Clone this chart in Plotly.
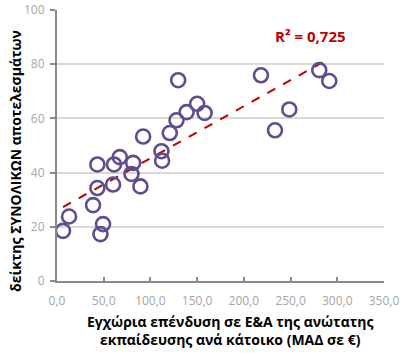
import numpy as np
import plotly.graph_objects as go

# investment per inhabitant (x) and overall results index (y)
invest = [6.4, 12.9, 38.6, 43.2, 43.2, 49.3, 46.5, 60.0, 61.0, 67.2,
          81.5, 79.7, 89.3, 92.2, 111.8, 112.5, 120.7, 127.9, 129.7, 138.7,
          150.0, 158.0, 218.3, 233.3, 248.6, 280.7, 291.4]
results = [18.5, 23.8, 28.0, 34.3, 43.0, 21.0, 17.3, 35.6, 43.0, 45.7,
           43.6, 39.5, 34.9, 53.3, 47.9, 44.4, 54.6, 59.3, 74.1, 62.3,
           65.4, 62.0, 75.9, 55.6, 63.3, 77.8, 73.8]

x_ticks = [0, 50, 100, 150, 200, 250, 300, 350]
y_ticks = [0, 20, 40, 60, 80, 100]
r2_label = "R² = 0,725"

# linear trendline over data range
slope, intercept = np.polyfit(invest, results, 1)
tx = [min(invest), max(invest)]
ty = [slope * v + intercept for v in tx]

fig = go.Figure()

fig.add_trace(go.Scatter(
    x=tx, y=ty, mode="lines",
    line=dict(color="#C00000", width=2, dash="dash"),
    hoverinfo="skip", showlegend=False
))

fig.add_trace(go.Scatter(
    x=invest, y=results, mode="markers",
    marker=dict(symbol="circle-open", size=14, color="#604D8F",
                line=dict(color="#604D8F", width=2.6)),
    showlegend=False
))

tickfont = dict(family="Open Sans", size=12, color="#A6A6A6")

fig.update_xaxes(
    range=[0, 350], tickvals=x_ticks, tickformat=".1f",
    showgrid=False, zeroline=False, automargin=False,
    showline=True, linecolor="#898989", linewidth=2,
    ticks="inside", ticklen=4, tickcolor="#898989", tickwidth=2,
    ticklabelstandoff=8, ticklabeloverflow="allow", tickfont=tickfont
)
fig.update_yaxes(
    range=[0, 100], tickvals=y_ticks, automargin=False,
    showgrid=True, gridcolor="#D9D9D9", gridwidth=1.5, zeroline=False,
    showline=True, linecolor="#898989", linewidth=2,
    ticks="outside", ticklen=5, tickcolor="#898989", tickwidth=2,
    ticklabelstandoff=3, ticklabeloverflow="allow", tickfont=tickfont
)

titlefont = dict(family="Open Sans", size=14, color="black")

# plot area: x 57..384, y 10..281 (pixels)
fig.update_layout(
    width=401, height=353,
    margin=dict(l=57, r=17, t=10, b=72),
    plot_bgcolor="white", paper_bgcolor="white",
    separators=",.",
    annotations=[
        dict(text="<b>" + r2_label + "</b>", xref="paper", yref="paper",
             x=(310 - 57) / 327, y=(281 - 36) / 271, showarrow=False,
             xanchor="center", yanchor="middle",
             font=dict(family="Open Sans", size=15, color="#C00000")),
        dict(text="<b>δείκτης ΣΥΝΟΛΙΚΩΝ αποτελεσμάτων</b>",
             xref="paper", yref="paper",
             x=(15 - 57) / 327, y=(281 - 161) / 271, textangle=-90,
             showarrow=False, xanchor="center", yanchor="middle",
             font=titlefont),
        dict(text="<b>Εγχώρια επένδυση σε Ε&Α της ανώτατης<br>εκπαίδευσης ανά κάτοικο (ΜΑΔ σε €)</b>",
             xref="paper", yref="paper",
             x=(230 - 57) / 327, y=(281 - 330.5) / 271,
             showarrow=False, xanchor="center", yanchor="middle",
             font=titlefont),
    ],
)

# drop the default 8px page margin so the figure fills the window
fig.write_html("out.html", config={"displayModeBar": False},
               post_script="document.body.style.margin='0';")
